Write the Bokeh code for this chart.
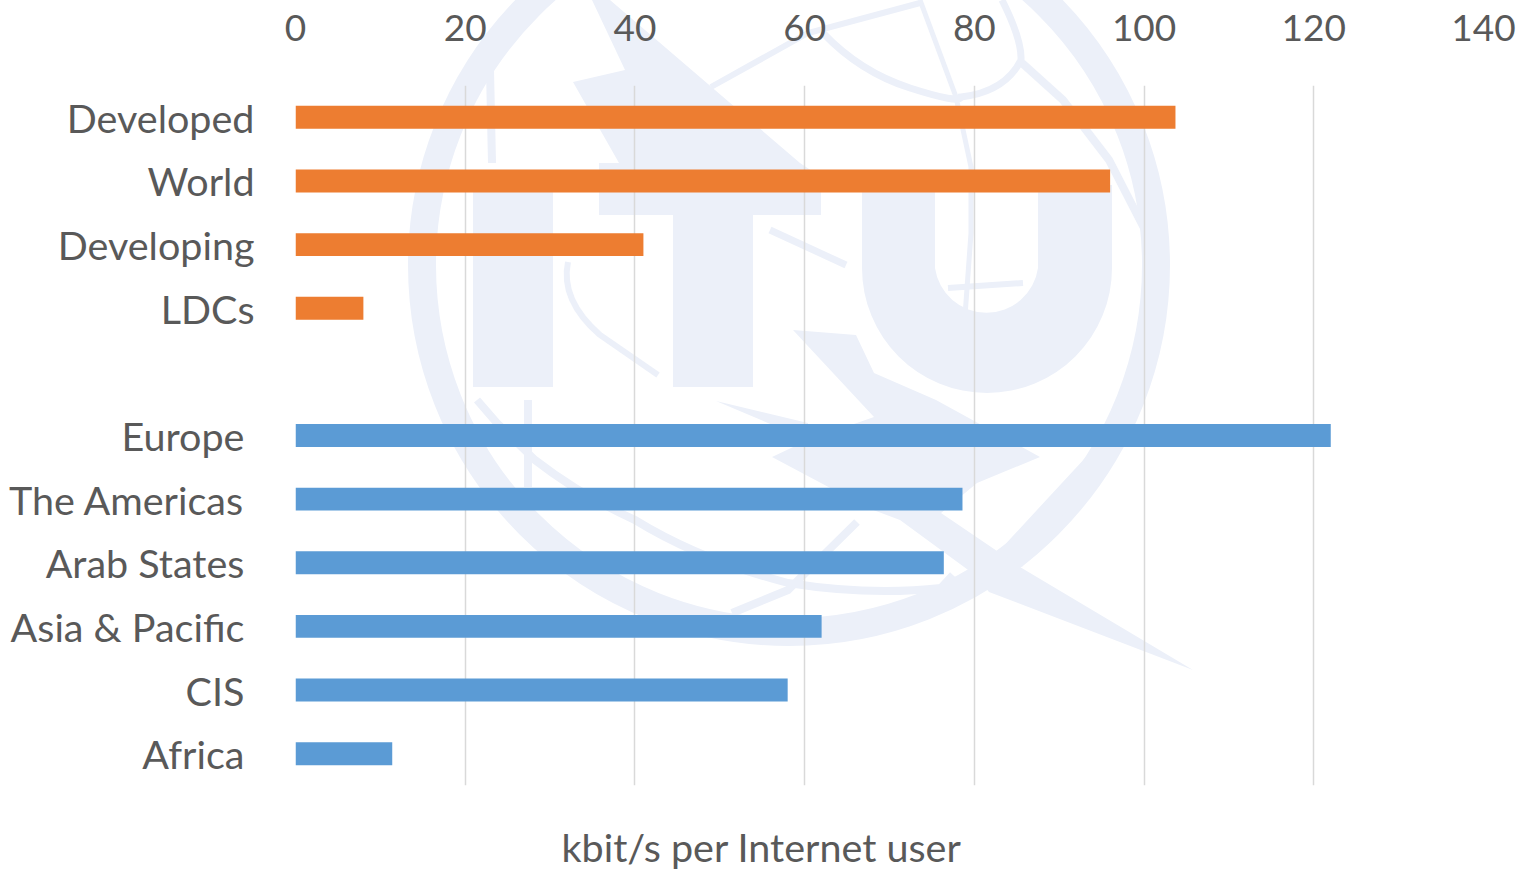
from urllib.parse import quote
from bokeh.plotting import figure
from bokeh.models import ColumnDataSource, FactorRange, FixedTicker, Range1d, Title
from bokeh.embed import file_html
from bokeh.resources import INLINE

# ---- data ----
dev_cats = ["Developed", "World", "Developing", "LDCs"]
dev_vals = [103.7, 96.0, 41.0, 8.0]
# the regional names end in a space in the reference: their labels stop further from the axis
reg_cats = ["Europe\u00a0", "The Americas\u00a0", "Arab States\u00a0", "Asia & Pacific\u00a0", "CIS\u00a0", "Africa\u00a0"]
reg_vals = [122.0, 78.6, 76.4, 62.0, 58.0, 11.4]
x_ticks = [0, 20, 40, 60, 80, 100, 120, 140]
axis_title = "kbit/s per Internet user"

FONT = "Lato"
TXT = "#595959"
WM = "#ECF0F9"
FS_X = "37px"
FS_Y = "39.5px"
W, H = 1523, 870
L, R, T, B = 295, 1483, 85, 785
factors = list(reversed(dev_cats + [""] + reg_cats))

# ---- ITU watermark: page background, behind the transparent plot ----
def area(pts):
    return f'<polygon points="{pts}"/>'

def stroke(d, w):
    return f'<path d="{d}" fill="none" stroke="{WM}" stroke-width="{w}"/>'

wm_parts = [
    f'<circle cx="789" cy="265" r="367" fill="none" stroke="{WM}" stroke-width="28"/>',
    # I T U
    area("473,185 553,185 553,387 473,387"),
    area("599,185 821,185 821,215 753,215 753,387 673,387 673,215 599,215"),
    f'<path d="M862 185 H935 V268 A52 52 0 0 0 1038 268 V185 H1112 V268 A125 125 0 0 1 862 268 Z"/>',
    # arrow over the T
    area("592,0 625,70 573,82 619,163 599,163 599,190 821,190 821,177 800,163 610,0"),
    # lightning
    area("793,330 856,335 874,373 936,400 1040,457 977,483 941,513 997,551 1020,567 1193,670 "
         "989,592 975,575 900,520 868,508 772,457 808,440 874,417"),
    area("716,401 808,423 808,440"),
    area("999,551 1099,443 1130,380 1150,380 1122,440 1022,567"),
    # globe lines
    stroke("M823 33 Q860 72 910 88 T961 97 Q1005 92 1021 60 Q1022 40 1002 0", 7),
    stroke("M920 0 L956 97 L971 167 L971 233 L964 330", 5),
    stroke("M711 87 L808 33 L920 3", 6),
    stroke("M1022 63 L1063 100 L1109 160 L1145 230", 8),
    stroke("M770 230 L846 265", 7),
    stroke("M948 288 L1023 283", 6),
    stroke("M490 70 L492 163", 8),
    stroke("M568 262 Q560 300 600 335 L658 375", 6),
    stroke("M477 400 L497 423 L535 460 Q580 495 635 520 Q700 560 788 583 Q870 596 941 588 L953 575", 8),
    stroke("M528 400 L528 487", 8),
    stroke("M857 522 L788 590 L732 613", 8),
]
svg = (f'<svg xmlns="http://www.w3.org/2000/svg" width="{W}" height="{H}" fill="{WM}">'
       + "".join(wm_parts) + "</svg>")

p = figure(width=W, height=H, output_backend="svg", toolbar_location=None,
           x_range=Range1d(0, 140), y_range=FactorRange(factors=factors, range_padding=0),
           x_axis_location="above", y_axis_location="left",
           min_border_left=L, min_border_right=W - R, min_border_top=T, min_border_bottom=H - B,
           styles={"background-image": f"url(\"data:image/svg+xml,{quote(svg)}\")",
                   "background-repeat": "no-repeat"})
p.outline_line_color = None
p.background_fill_color = None
p.border_fill_color = None
p.ygrid.visible = False
p.xgrid.ticker = FixedTicker(ticks=x_ticks)
p.xgrid.grid_line_color = "#D9D9D9"
p.xgrid.grid_line_width = 1.5

ax = p.xaxis[0]
ax.ticker = FixedTicker(ticks=x_ticks)
ax.major_label_standoff = 39
ay = p.yaxis[0]
for a, fs in ((ax, FS_X), (ay, FS_Y)):
    a.axis_line_color = None
    a.major_tick_line_color = None
    a.minor_tick_line_color = None
    a.major_label_text_font = FONT
    a.major_label_text_font_size = fs
    a.major_label_text_color = TXT
ay.major_label_standoff = 35
ay.major_label_text_line_height = 1.0

# ---- bars ----
dev_src = ColumnDataSource(dict(cat=dev_cats, val=dev_vals))
reg_src = ColumnDataSource(dict(cat=reg_cats, val=reg_vals))
p.hbar(y="cat", right="val", left=0, height=0.36, source=dev_src, fill_color="#ED7D31", line_color=None)
p.hbar(y="cat", right="val", left=0, height=0.36, source=reg_src, fill_color="#5B9BD5", line_color=None)

# ---- axis title, placed as in the reference (off the frame's centre) ----
p.add_layout(Title(text=" ", standoff=0, text_font=FONT, text_font_size="27.5px"), "below")
p.add_layout(Title(text=axis_title, align="left", offset=266, standoff=0,
                   text_font=FONT, text_font_size=FS_Y, text_font_style="normal",
                   text_line_height=1.0, text_color=TXT), "below")

open("out.html", "w").write(file_html(p, INLINE))
